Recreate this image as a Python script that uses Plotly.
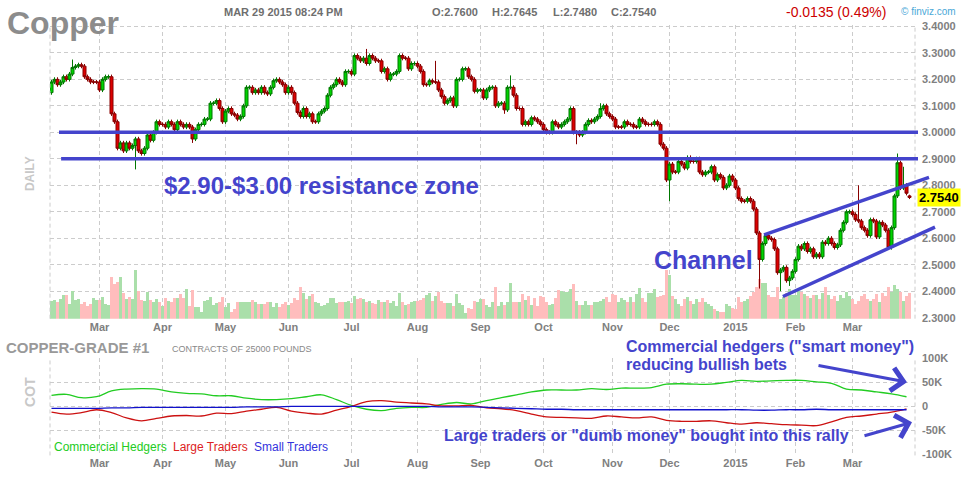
import plotly.graph_objects as go
import pandas as pd

# ------------------------------------------------------------------ data
holidays = ["2014-02-17", "2014-04-18", "2014-05-26", "2014-07-04", "2014-09-01",
            "2014-11-27", "2014-12-25", "2015-01-01", "2015-01-19", "2015-02-16"]
trade_dates = [d for d in pd.bdate_range("2014-02-06", "2015-03-27")
               if d.strftime("%Y-%m-%d") not in holidays]

close_feb14 = [3.19, 3.20, 3.18, 3.19, 3.21, 3.20, 3.22, 3.245, 3.25, 3.255, 3.25, 3.21, 3.20, 3.19, 3.19, 3.19]
close_mar14 = [3.16, 3.20, 3.21, 3.21, 3.07, 3.04, 2.94, 2.96, 2.93, 2.96, 2.94, 2.95, 2.975, 2.93, 2.92, 2.94,
               2.99, 2.97, 3.00, 3.04, 3.03]
close_apr14 = [3.03, 3.02, 3.04, 3.03, 3.01, 3.04, 3.03, 3.02, 3.03, 3.02, 2.975, 3.01, 3.03, 3.03, 3.05, 3.05,
               3.11, 3.11, 3.12, 3.09, 3.04]
close_may14 = [3.08, 3.09, 3.07, 3.065, 3.05, 3.06, 3.10, 3.17, 3.17, 3.15, 3.16, 3.15, 3.17, 3.15, 3.145, 3.17,
               3.195, 3.20, 3.19, 3.18, 3.15]
close_jun14 = [3.17, 3.15, 3.11, 3.075, 3.06, 3.09, 3.06, 3.07, 3.04, 3.04, 3.07, 3.08, 3.09, 3.14, 3.17, 3.18,
               3.20, 3.19, 3.18, 3.23, 3.23]
close_jul14 = [3.22, 3.29, 3.28, 3.27, 3.28, 3.26, 3.29, 3.28, 3.27, 3.27, 3.23, 3.24, 3.20, 3.22, 3.22, 3.23,
               3.29, 3.28, 3.28, 3.24, 3.26, 3.26]
close_aug14 = [3.25, 3.23, 3.18, 3.18, 3.195, 3.19, 3.19, 3.16, 3.135, 3.11, 3.12, 3.13, 3.10, 3.20, 3.20, 3.24,
               3.24, 3.21, 3.20, 3.155, 3.16]
close_sep14 = [3.16, 3.13, 3.16, 3.17, 3.17, 3.10, 3.11, 3.11, 3.085, 3.17, 3.17, 3.14, 3.09, 3.09, 3.03, 3.04,
               3.03, 3.055, 3.05, 3.04, 3.03]
close_oct14 = [3.01, 3.00, 3.00, 3.04, 3.03, 3.02, 3.03, 3.04, 3.05, 3.09, 3.00, 3.00, 2.99, 3.00, 3.03, 3.045,
               3.04, 3.05, 3.06, 3.09, 3.10, 3.07, 3.06]
close_nov14 = [3.05, 3.02, 3.02, 3.02, 3.04, 3.03, 3.03, 3.02, 3.02, 3.05, 3.04, 3.03, 3.03, 3.03, 3.04, 3.03,
               2.955, 2.94, 2.82]
close_dec14 = [2.88, 2.85, 2.85, 2.89, 2.88, 2.865, 2.905, 2.89, 2.89, 2.90, 2.85, 2.84, 2.85, 2.85, 2.87, 2.82,
               2.84, 2.83, 2.79, 2.80, 2.835, 2.82]
close_jan15 = [2.79, 2.75, 2.74, 2.74, 2.75, 2.74, 2.71, 2.62, 2.52, 2.58, 2.61, 2.60, 2.595, 2.56, 2.47, 2.48,
               2.49, 2.44, 2.45, 2.475]
close_feb15 = [2.52, 2.57, 2.56, 2.58, 2.55, 2.56, 2.53, 2.54, 2.53, 2.585, 2.58, 2.60, 2.58, 2.565, 2.575, 2.63,
               2.66, 2.70, 2.70]
close_mar15 = [2.69, 2.67, 2.665, 2.64, 2.63, 2.61, 2.67, 2.665, 2.605, 2.66, 2.65, 2.63, 2.565, 2.64, 2.76,
               2.885, 2.79, 2.80, 2.77, 2.754]

first_open = 3.15
open_overrides = {286: 2.7600}
high_overrides = {7: 3.275, 105: 3.315, 128: 3.27, 153: 3.215, 183: 3.11, 269: 2.80, 282: 2.92, 284: 2.87,
                  286: 2.7645}
low_overrides = {28: 2.86, 47: 2.96, 151: 3.07, 175: 2.955, 206: 2.74, 236: 2.41, 243: 2.40, 246: 2.42,
                 286: 2.748}
wick = 0.008

volume = [19, 20, 18, 21, 25, 25, 15, 29, 20, 21, 15, 18, 13, 15, 22, 20,
          20, 23, 15, 14, 43, 36, 38, 43, 27, 21, 23, 21, 50, 29, 20, 19, 28, 20, 18, 21, 18,
          13, 22, 19, 18, 22, 22, 26, 22, 31, 13, 30, 12, 12, 7, 19, 20, 23, 14, 16, 18, 23,
          12, 16, 7, 10, 18, 17, 17, 17, 17, 20, 18, 15, 15, 15, 18, 18, 12, 16, 12, 15, 17,
          14, 16, 22, 20, 33, 27, 21, 24, 26, 18, 16, 13, 14, 16, 22, 22, 16, 18, 17, 18, 19,
          16, 24, 21, 22, 21, 18, 19, 16, 15, 20, 18, 17, 20, 16, 19, 13, 27, 18, 14, 15, 17, 19,
          19, 20, 22, 25, 27, 19, 24, 28, 19, 16, 16, 16, 13, 26, 16, 14, 6, 11, 10, 19, 18,
          21, 21, 14, 12, 17, 33, 13, 17, 14, 17, 37, 18, 18, 17, 26, 20, 24, 14, 22, 13, 24,
          23, 18, 14, 15, 22, 30, 29, 28, 28, 31, 36, 19, 14, 14, 19, 14, 14, 18, 18, 19, 21, 23, 17,
          26, 25, 18, 22, 20, 18, 23, 18, 26, 32, 22, 17, 27, 27, 31, 23, 24, 25, 50,
          45, 24, 21, 15, 13, 21, 23, 19, 15, 21, 18, 22, 17, 15, 13, 10, 8, 7, 7, 15, 13, 11,
          10, 23, 18, 19, 21, 24, 28, 33, 41, 37, 37, 25, 23, 23, 33, 21, 23, 27, 31, 25,
          25, 29, 28, 26, 24, 22, 25, 25, 21, 27, 33, 25, 21, 24, 19, 25, 22, 28, 24,
          21, 15, 19, 24, 26, 21, 19, 21, 26, 18, 27, 24, 33, 28, 35, 31, 28, 19, 24, 27]

cot_step = 5  # one COT reading per trading week
cot_commercial = [23, 25, 18, 20, 32, 36, 37, 36, 30, 27, 26, 22, 22, 17, 14, 14, 16, 20, 24, 14,
                  2, -6, -9, -4, -2, -2, 4, 8, 5, 12, 18, 24, 30, 34, 34, 34, 37, 35, 38, 38,
                  39, 46, 47, 46, 46, 50, 54, 52, 53, 54, 54, 51, 48, 36, 34, 30, 26, 20]
cot_large = [-12, -16, -13, -7, -13, -24, -30, -25, -20, -19, -20, -14, -15, -10, -6, -2, -10, -14, -16, -8,
             0, 10, 12, 9, 7, 5, 1, 1, 2, -3, -5, -9, -16, -22, -23, -24, -25, -20, -22, -24,
             -22, -29, -31, -31, -30, -34, -37, -34, -36, -38, -39, -40, -32, -23, -20, -16, -12, -5]
cot_small = [-4, -4, -4, -4, -3, -3, -2, -2, -2, -2, -2, -2, -2, -1, -1, -1, 0, 0, 0, 0,
             0, 0, 0, 0, 0, 0, -1, -1, -1, -2, -3, -4, -5, -6, -6, -7, -7, -7, -7, -7,
             -7, -7, -7, -7, -7, -7, -7, -8, -8, -7, -7, -6, -7, -7, -7, -7, -7, -7]

month_labels = ["Mar", "Apr", "May", "Jun", "Jul", "Aug", "Sep", "Oct", "Nov", "Dec", "2015", "Feb", "Mar"]
price_ticks = [2.3, 2.4, 2.5, 2.6, 2.7, 2.8, 2.9, 3.0, 3.1, 3.2, 3.3, 3.4]
cot_ticks = [-100, -50, 0, 50, 100]
cot_tick_text = ["-100K", "-50K", "0", "50K", "100K"]

resistance_levels = [3.00, 2.90]
resistance_start = [2.5, 3.2]            # trading-day index where each line starts
channel_upper = [(237.5, 2.6125), (292.5, 2.830)]
channel_lower = [(243.8, 2.380), (294.5, 2.642)]
last_price = 2.7540

# ------------------------------------------------------------------ derived
n = len(trade_dates)
xs = list(range(n))
closes = (close_feb14 + close_mar14 + close_apr14 + close_may14 + close_jun14 + close_jul14 + close_aug14 +
          close_sep14 + close_oct14 + close_nov14 + close_dec14 + close_jan15 + close_feb15 + close_mar15)
opens = [first_open] + closes[:-1]
for k, v in open_overrides.items():
    opens[k] = v
highs = [max(o, c) + wick for o, c in zip(opens, closes)]
lows = [min(o, c) - wick for o, c in zip(opens, closes)]
for k, v in high_overrides.items():
    highs[k] = v
for k, v in low_overrides.items():
    lows[k] = v
vol_colors = ["#aadfaa" if c >= o else "#ffbdbd" for o, c in zip(opens, closes)]
month_idx = [i for i in range(1, n) if trade_dates[i].month != trade_dates[i - 1].month]
cot_x = xs[::cot_step][:len(cot_commercial)]

# ------------------------------------------------------------------ layout helpers
W, H = 964, 480
L, R = 50, 915
XMIN, XMAX = -0.5, (R - L) / 3.0 - 0.5
P_TOP_PX, P_BOT_PX = 19, 320
P_LO = 2.30 - 1 / 271.0
P_HI = 2.30 + 300 / 271.0
C_TOP_PX, C_BOT_PX = 360, 460
FONT = "Liberation Sans, Arial, sans-serif"
BLUE = "#4444cc"
GRID = "#cccccc"
DASH = "4px,3px"


def PX(x):
    return (x - L) / (R - L)


def PY(y):
    return 1 - y / H


def idx_to_paper(i):
    return (i - XMIN) / (XMAX - XMIN)


def price_to_paper(p):
    y0, y1 = PY(P_BOT_PX), PY(P_TOP_PX)
    return y0 + (p - P_LO) / (P_HI - P_LO) * (y1 - y0)


fig = go.Figure()
fig.add_trace(go.Bar(x=xs, y=volume, marker=dict(color=vol_colors, line=dict(width=0)), width=1.0,
                     xaxis="x", yaxis="y", hoverinfo="skip", showlegend=False))
fig.add_trace(go.Candlestick(x=xs, open=opens, high=highs, low=lows, close=closes, xaxis="x", yaxis="y2",
                             increasing=dict(line=dict(color="#007700", width=1), fillcolor="#00d400"),
                             decreasing=dict(line=dict(color="#880000", width=1), fillcolor="#dd0000"),
                             whiskerwidth=0, showlegend=False))
for vals, col in [(cot_commercial, "#22cc22"), (cot_large, "#cc1111"), (cot_small, "#1111cc")]:
    fig.add_trace(go.Scatter(x=cot_x, y=vals, mode="lines", xaxis="x2", yaxis="y3", showlegend=False,
                             line=dict(color=col, width=1.3, shape="spline", smoothing=1.0)))

tickfont = dict(family=FONT, size=11, color="#808080")
xcommon = dict(range=[XMIN, XMAX], tickvals=[xs[i] for i in month_idx],
               ticktext=["<b>%s</b>" % t for t in month_labels], showgrid=True, gridcolor=GRID,
               griddash=DASH, gridwidth=1, zeroline=False, showline=False, ticks="", tickfont=tickfont,
               fixedrange=True)
fig.update_layout(
    width=W, height=H, margin=dict(l=L, r=W - R, t=0, b=0), paper_bgcolor="white", plot_bgcolor="white",
    showlegend=False, bargap=0, boxgap=0.0, boxgroupgap=0.0,
    xaxis=dict(domain=[0, 1], anchor="y", rangeslider=dict(visible=False), **xcommon),
    yaxis=dict(domain=[PY(P_BOT_PX), PY(P_TOP_PX)], range=[0, P_BOT_PX - P_TOP_PX], visible=False,
               fixedrange=True),
    yaxis2=dict(overlaying="y", side="right", anchor="x", range=[P_LO, P_HI], tickvals=price_ticks,
                ticktext=["<b>%.4f</b>" % t for t in price_ticks], showgrid=True, gridcolor=GRID,
                griddash=DASH, zeroline=False, showline=False, ticks="", tickfont=tickfont,
                ticklabelstandoff=6, fixedrange=True),
    xaxis2=dict(domain=[0, 1], anchor="y3", **xcommon),
    yaxis3=dict(domain=[PY(C_BOT_PX), PY(C_TOP_PX)], side="right", anchor="x2", range=[-102, 101],
                tickvals=cot_ticks, ticktext=["<b>%s</b>" % t for t in cot_tick_text], showgrid=True,
                gridcolor=GRID, griddash=DASH, zeroline=False, showline=False, ticks="", tickfont=tickfont,
                ticklabelstandoff=6, fixedrange=True),
)

shapes = []
# dashed panel borders left / right
for yd in ["y domain", "y3 domain"]:
    for xp in [0, 1]:
        shapes.append(dict(type="line", xref="paper", yref=yd, x0=xp, x1=xp, y0=0, y1=1,
                           line=dict(color=GRID, width=1, dash=DASH)))
# resistance zone lines
for lvl, st in zip(resistance_levels, resistance_start):
    shapes.append(dict(type="line", xref="paper", yref="paper", x0=idx_to_paper(st), x1=PX(918),
                       y0=price_to_paper(lvl), y1=price_to_paper(lvl), line=dict(color=BLUE, width=3.5)))
# channel
for (a, b) in [channel_upper, channel_lower]:
    shapes.append(dict(type="line", xref="paper", yref="paper", x0=idx_to_paper(a[0]), y0=price_to_paper(a[1]),
                       x1=idx_to_paper(b[0]), y1=price_to_paper(b[1]), line=dict(color=BLUE, width=3.5)))
fig.update_layout(shapes=shapes)


def txt(text, x, y, size, color, bold=False, xanchor="left", angle=0, **kw):
    t = "<b>%s</b>" % text if bold else text
    return dict(text=t, x=PX(x), y=PY(y), xref="paper", yref="paper", xanchor=xanchor, yanchor="middle",
                showarrow=False, textangle=angle, font=dict(family=FONT, size=size, color=color), **kw)


ann = [
    txt("Copper", 5, 17, 32, "#8c8c8c", True),
    txt("MAR 29 2015 08:24 PM", 222, 6, 11, "#6e6e6e", True),
    txt("O:2.7600", 430, 6, 11, "#6e6e6e", True),
    txt("H:2.7645", 490, 6, 11, "#6e6e6e", True),
    txt("L:2.7480", 551, 6, 11, "#6e6e6e", True),
    txt("C:2.7540", 609, 6, 11, "#6e6e6e", True),
    txt("-0.0135 (0.49%)", 784, 6, 14, "#cc0000"),
    txt("© finviz.com", 899, 6, 10, "#4aa8d8"),
    txt("DAILY", 30, 172, 12, "#c8c8c8", True, xanchor="center", angle=-90),
    txt("COT", 30, 395, 14, "#c8c8c8", True, xanchor="center", angle=-90),
    txt("COPPER-GRADE #1", 4, 349, 15, "#999999", True),
    txt("CONTRACTS OF 25000 POUNDS", 170, 351, 9, "#888888"),
    txt("Commercial Hedgers", 52, 451, 12, "#22cc22"),
    txt("Large Traders", 171, 451, 12, "#dd2222"),
    txt("Small Traders", 252, 451, 12, "#3333dd"),
    txt("$2.90-$3.00 resistance zone", 162, 184, 24, BLUE, True),
    txt("Channel", 652, 260, 25, BLUE, True),
    txt('Commercial hedgers ("smart money")', 624, 348, 16, BLUE, True),
    txt("reducing bullish bets", 624, 367, 16, BLUE, True),
    txt('Large traders or "dumb money" bought into this rally', 442, 440, 16, BLUE, True),
    dict(text="<b>%.4f</b>" % last_price, x=PX(917), y=price_to_paper(last_price), xref="paper", yref="paper",
         xanchor="left", yanchor="middle", showarrow=False, bgcolor="#ffff00", borderpad=1,
         font=dict(family=FONT, size=13, color="#000000")),
    dict(text="", x=PX(907), y=PY(385), xref="paper", yref="paper", showarrow=True, ax=-90, ay=-17,
         arrowhead=4, arrowsize=1.5, arrowwidth=3, arrowcolor=BLUE),
    dict(text="", x=PX(912), y=PY(426), xref="paper", yref="paper", showarrow=True, ax=-49, ay=14,
         arrowhead=4, arrowsize=1.5, arrowwidth=3, arrowcolor=BLUE),
]
fig.update_layout(annotations=ann)
fig.write_html("out.html")
